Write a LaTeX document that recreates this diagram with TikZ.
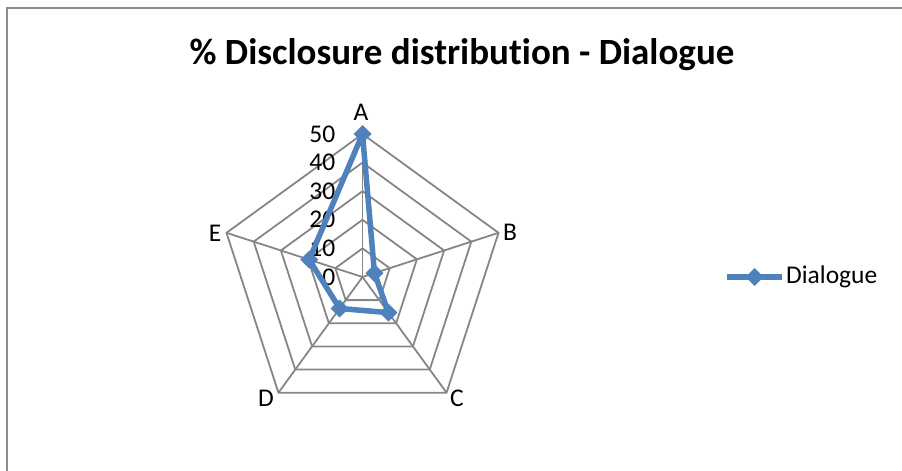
\documentclass[tikz,border=0pt]{standalone}
\usepackage{fontspec}
\setmainfont{Carlito}[Ligatures=NoCommon]
\usetikzlibrary{calc}
\definecolor{seriesblue}{HTML}{4F81BD}
\definecolor{gridgray}{HTML}{868686}
\definecolor{framegray}{HTML}{8C8C8C}
\tikzset{
  gridline/.style={draw=gridgray, line width=1.8pt},
  seriesline/.style={draw=seriesblue, line width=5.5pt, line join=round},
  axislabel/.style={font=\fontsize{25.5}{28}\selectfont, inner sep=0pt},
  charttitle/.style={font=\fontsize{37}{40}\selectfont\bfseries, inner sep=0pt}
}
\newcommand{\markdiamond}[1]{\fill[seriesblue] (#1) ++(-9,0) -- ++(9,-9) -- ++(9,9) -- ++(-9,9) -- cycle;}

\begin{document}
\begin{tikzpicture}[x=1pt,y=-1pt]
  \useasboundingbox (0,0) rectangle (902,471);
  \draw[framegray, line width=2pt] (7,471) -- (7,8) -- (902,8);
  \node[charttitle] (title) at (462,55) {\% Disclosure distribution - Dialogue};
  \coordinate (O) at (362.5,277);
  \foreach \r in {28.6,57.2,85.8,114.4,143}
    \draw[gridline, shift={(O)}] (-90:\r) -- (-18:\r) -- (54:\r) -- (126:\r) -- (198:\r) -- cycle;
  \foreach \ang in {-90,-18,54,126,198}
    \draw[gridline] (O) -- ($(O)+(\ang:143)$);
  \foreach \v in {0,10,...,50}
    \node[axislabel, anchor=east] (tick\v) at ($(O)+(-27,-\v*2.86)$) {\v};
  \node[axislabel] (labA) at (361,112) {A};
  \node[axislabel] (labB) at (510,232) {B};
  \node[axislabel] (labC) at (457,398) {C};
  \node[axislabel] (labD) at (266,398) {D};
  \node[axislabel] (labE) at (215,233) {E};
  \foreach \ang/\val/\nm in {-90/50/a, -18/4.4/b, 54/15.4/c, 126/13.6/d, 198/19.6/e}
    \coordinate (p\nm) at ($(O)+(\ang:{\val*2.86})$);
  \draw[seriesline] (pa) -- (pb) -- (pc) -- (pd) -- (pe) -- cycle;
  \foreach \nm in {a,b,c,d,e}
    \markdiamond{p\nm}
  \coordinate (legL) at (727,277);
  \coordinate (legR) at (782,277);
  \draw[seriesline] (legL) -- (legR);
  \markdiamond{$(legL)!0.5!(legR)$}
  \node[axislabel, anchor=west] (legtext) at (786,277) {Dialogue};
\end{tikzpicture}
\end{document}
